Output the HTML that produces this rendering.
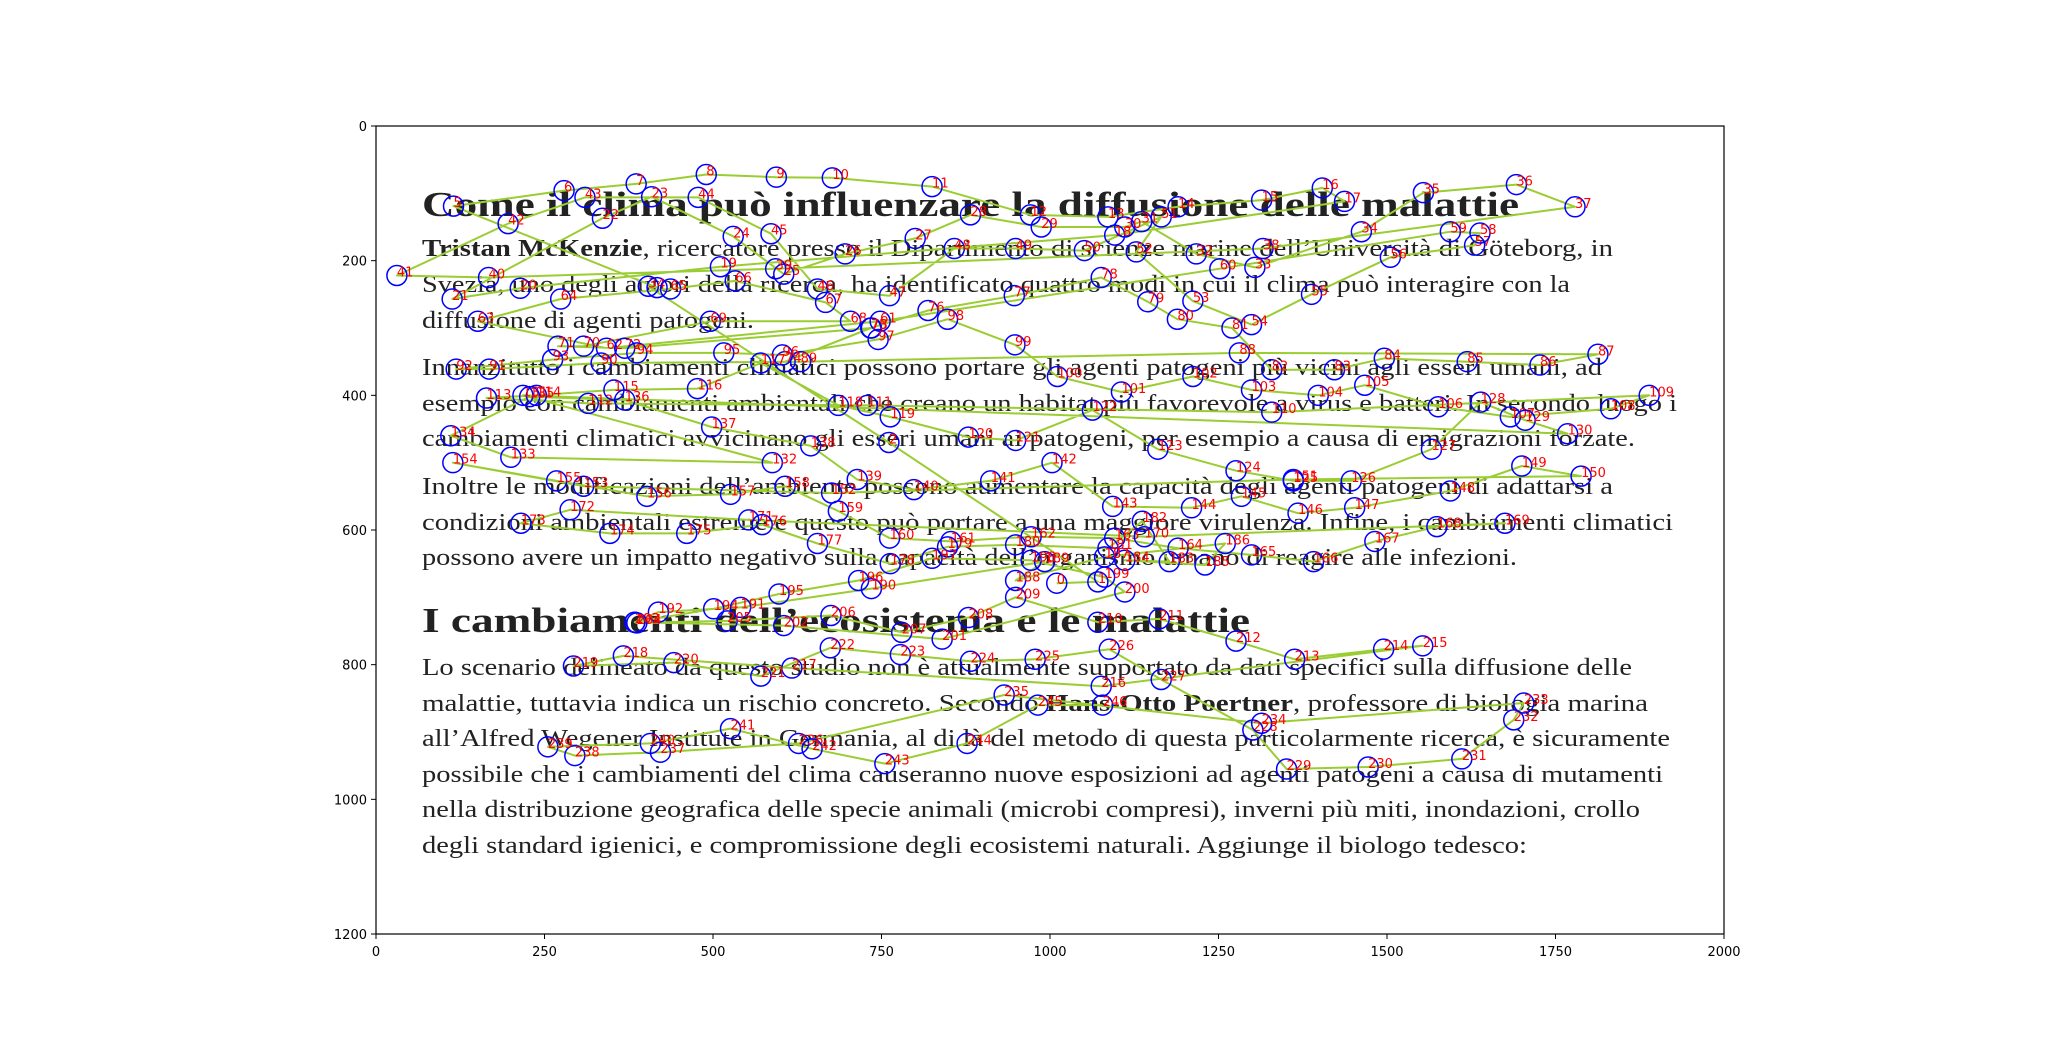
<!DOCTYPE html>
<html><head><meta charset="utf-8">
<style>
html,body{margin:0;padding:0;background:#fff;}
svg{display:block;}
.tick{font-family:"DejaVu Sans","Liberation Sans",sans-serif;font-size:13px;fill:#000;}
.body{font-family:"Liberation Serif",serif;font-size:24px;fill:#222;}
.head{font-family:"Liberation Serif",serif;font-size:35px;font-weight:bold;fill:#222;}
.lbl{font-family:"DejaVu Sans","Liberation Sans",sans-serif;font-size:13px;fill:red;}
</style></head>
<body>
<svg id="chart" width="2048" height="1050" viewBox="0 0 2048 1050">
<rect x="0" y="0" width="2048" height="1050" fill="#fff"/>
<g>
<text class="head" x="422" y="216" textLength="1097" lengthAdjust="spacingAndGlyphs">Come il clima può influenzare la diffusione delle malattie</text>
<text class="body" x="422" y="256" textLength="1191" lengthAdjust="spacingAndGlyphs"><tspan font-weight="bold">Tristan McKenzie</tspan>, ricercatore presso il Dipartimento di scienze marine dell’Università di Göteborg, in</text>
<text class="body" x="422" y="292" textLength="1148" lengthAdjust="spacingAndGlyphs">Svezia, uno degli autori della ricerca, ha identificato quattro modi in cui il clima può interagire con la</text>
<text class="body" x="422" y="328" textLength="332" lengthAdjust="spacingAndGlyphs">diffusione di agenti patogeni.</text>
<text class="body" x="422" y="375" textLength="1180" lengthAdjust="spacingAndGlyphs">Innanzitutto i cambiamenti climatici possono portare gli agenti patogeni più vicini agli esseri umani, ad</text>
<text class="body" x="422" y="411" textLength="1255" lengthAdjust="spacingAndGlyphs">esempio con cambiamenti ambientali che creano un habitat più favorevole a virus e batteri. In secondo luogo i</text>
<text class="body" x="422" y="446" textLength="1213" lengthAdjust="spacingAndGlyphs">cambiamenti climatici avvicinano gli esseri umani ai patogeni, per esempio a causa  di emigrazioni forzate.</text>
<text class="body" x="422" y="494" textLength="1191" lengthAdjust="spacingAndGlyphs">Inoltre  le modificazioni dell’ambiente possono aumentare la capacità degli agenti patogeni di adattarsi a</text>
<text class="body" x="422" y="530" textLength="1251" lengthAdjust="spacingAndGlyphs">condizioni ambientali estreme e questo può portare a una maggiore virulenza. Infine, i cambiamenti climatici</text>
<text class="body" x="422" y="565" textLength="1095" lengthAdjust="spacingAndGlyphs">possono avere un impatto negativo sulla capacità dell’organismo umano di reagire alle infezioni.</text>
<text class="head" x="422" y="632" textLength="828" lengthAdjust="spacingAndGlyphs">I cambiamenti dell’ecosistema e le malattie</text>
<text class="body" x="422" y="675" textLength="1210" lengthAdjust="spacingAndGlyphs">Lo scenario delineato da questo studio non è attualmente supportato da dati specifici sulla diffusione delle</text>
<text class="body" x="422" y="711" textLength="1226" lengthAdjust="spacingAndGlyphs">malattie, tuttavia indica un rischio concreto. Secondo <tspan font-weight="bold">Hans-Otto Poertner</tspan>, professore di biologia marina</text>
<text class="body" x="422" y="746" textLength="1248" lengthAdjust="spacingAndGlyphs">all’Alfred Wegener Institute in Germania, al di là del metodo di questa particolarmente ricerca, è sicuramente</text>
<text class="body" x="422" y="782" textLength="1241" lengthAdjust="spacingAndGlyphs">possibile che i cambiamenti del clima causeranno nuove esposizioni ad agenti patogeni a causa di mutamenti</text>
<text class="body" x="422" y="817" textLength="1218" lengthAdjust="spacingAndGlyphs">nella distribuzione geografica delle specie animali (microbi compresi), inverni più miti, inondazioni,  crollo</text>
<text class="body" x="422" y="853" textLength="1105" lengthAdjust="spacingAndGlyphs">degli standard igienici, e compromissione degli ecosistemi naturali. Aggiunge il biologo tedesco:</text>
</g>
<g id="marks"></g>
<g id="axes"></g>
</svg>
<script>
const xTicks = [0,250,500,750,1000,1250,1500,1750,2000];
const yTicks = [0,200,400,600,800,1000,1200];
const pointX = [1010,1071,761,404,417,115,279,386,490,594,677,825,971,1086,1190,1314,1404,1437,1096,511,214,113,336,409,530,605,696,800,882,987,1111,1136,1217,1304,1462,1554,1692,1779,1316,593,167,31,196,310,478,586,655,762,858,949,1051,1165,1128,1212,1299,1388,1505,1630,1638,1594,1252,748,342,151,274,437,533,667,704,496,308,270,369,735,607,734,819,947,1076,1145,1189,1270,1329,1422,1496,1619,1727,1813,1281,630,334,168,119,262,387,516,603,745,848,948,1011,1106,1212,1299,1398,1467,1576,1683,1832,1889,1329,729,315,164,238,353,477,571,686,763,879,949,1063,1160,1276,1361,1447,1566,1639,1705,1768,218,588,200,111,228,369,498,645,714,798,912,1003,1093,1210,1284,1368,1452,1594,1700,1788,1361,676,308,114,268,402,526,607,686,762,853,972,1096,1190,1299,1391,1482,1574,1675,1140,553,288,215,347,461,573,655,763,848,949,1086,1137,1177,1111,1230,1260,1081,949,992,735,541,419,384,501,598,716,825,972,1081,1111,840,605,384,387,521,675,780,879,949,1071,1162,1276,1363,1495,1553,1076,617,367,293,442,571,674,778,882,978,1088,1165,1301,1351,1472,1611,1688,1703,1314,932,627,422,295,255,407,526,647,755,877,982,1078];
const pointY = [679,677,470,238,240,119,96,86,72,76,77,90,132,135,120,110,92,112,162,209,241,257,137,105,164,220,190,167,132,150,150,142,190,210,157,99,87,120,182,212,225,222,145,106,106,160,242,252,182,182,185,135,187,260,295,250,195,177,159,157,212,290,330,290,257,242,230,262,290,290,327,327,330,300,350,300,274,252,225,261,287,300,362,362,345,350,355,339,337,350,352,361,361,347,337,337,340,317,287,325,372,395,372,392,400,385,417,432,420,400,425,415,412,404,400,392,390,352,415,432,462,467,422,480,512,527,527,480,410,437,457,400,500,492,460,402,407,447,475,525,540,527,500,565,567,550,575,567,542,505,520,525,545,535,500,527,550,547,535,572,612,617,610,612,627,637,647,617,595,590,610,585,570,590,605,605,592,620,650,625,622,627,587,647,645,652,620,640,675,647,687,715,722,737,717,695,675,642,645,670,692,762,742,737,738,735,727,752,730,700,737,732,765,792,777,772,832,805,787,802,797,817,775,785,795,792,777,822,897,955,952,940,882,857,887,845,917,930,935,922,917,895,925,947,917,860,860];

const X0=376, X1=1724, Y0=126, Y1=934;
const xScale = v => X0 + (v - 0) / 2000 * (X1 - X0);
const yScale = v => Y0 + (v - 0) / 1200 * (Y1 - Y0);
const NS = 'http://www.w3.org/2000/svg';
const marks = document.getElementById('marks');
const axes = document.getElementById('axes');

let d = '';
for (let i = 0; i < pointX.length; i++) d += (i ? 'L' : 'M') + xScale(pointX[i]).toFixed(1) + ' ' + yScale(pointY[i]).toFixed(1);
const path = document.createElementNS(NS, 'path');
path.setAttribute('d', d);
path.setAttribute('fill', 'none');
path.setAttribute('stroke', '#9acd32');
path.setAttribute('stroke-width', '2');
path.setAttribute('stroke-linejoin', 'round');


marks.appendChild(path);

for (let i = 0; i < pointX.length; i++) {
  const cx = xScale(pointX[i]), cy = yScale(pointY[i]);
  const c = document.createElementNS(NS, 'circle');
  c.setAttribute('cx', cx); c.setAttribute('cy', cy); c.setAttribute('r', 10);
  c.setAttribute('fill', 'none'); c.setAttribute('stroke', 'blue'); c.setAttribute('stroke-width', '1.5');
  
  
  marks.appendChild(c);
  const t = document.createElementNS(NS, 'text');
  t.setAttribute('x', cx); t.setAttribute('y', cy + 1);
  t.setAttribute('class', 'lbl');
  t.textContent = String(i);
  
  
  marks.appendChild(t);
}

const frame = document.createElementNS(NS, 'rect');
frame.setAttribute('x', X0); frame.setAttribute('y', Y0);
frame.setAttribute('width', X1 - X0); frame.setAttribute('height', Y1 - Y0);
frame.setAttribute('fill', 'none'); frame.setAttribute('stroke', '#000'); frame.setAttribute('stroke-width', '1.2');


axes.appendChild(frame);

xTicks.forEach(v => {
  const x = xScale(v);
  const l = document.createElementNS(NS, 'line');
  l.setAttribute('x1', x); l.setAttribute('x2', x); l.setAttribute('y1', Y1); l.setAttribute('y2', Y1 + 5);
  l.setAttribute('stroke', '#000');
  
  
  axes.appendChild(l);
  const t = document.createElementNS(NS, 'text');
  t.setAttribute('x', x); t.setAttribute('y', Y1 + 22); t.setAttribute('text-anchor', 'middle');
  t.setAttribute('class', 'tick'); t.textContent = v;
  
  
  axes.appendChild(t);
});
yTicks.forEach(v => {
  const y = yScale(v);
  const l = document.createElementNS(NS, 'line');
  l.setAttribute('x1', X0 - 5); l.setAttribute('x2', X0); l.setAttribute('y1', y); l.setAttribute('y2', y);
  l.setAttribute('stroke', '#000');
  
  
  axes.appendChild(l);
  const t = document.createElementNS(NS, 'text');
  t.setAttribute('x', X0 - 9); t.setAttribute('y', y + 5); t.setAttribute('text-anchor', 'end');
  t.setAttribute('class', 'tick'); t.textContent = v;
  
  
  axes.appendChild(t);
});
</script>
</body></html>
